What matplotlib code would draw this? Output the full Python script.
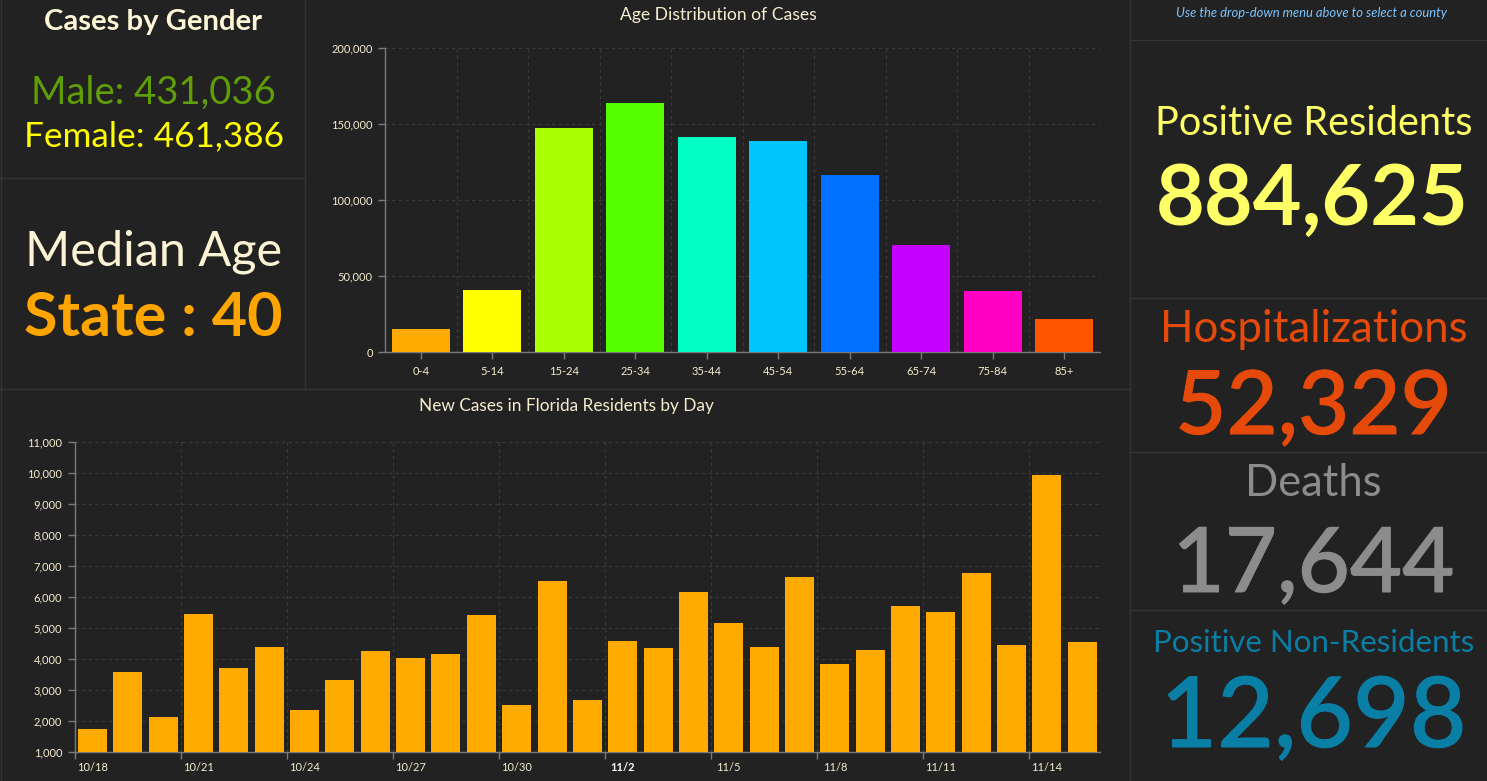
import numpy as np
import matplotlib
matplotlib.use('Agg')
import matplotlib.pyplot as plt
import matplotlib.patheffects as pe
from matplotlib.lines import Line2D
from matplotlib.ticker import FuncFormatter

plt.rcParams['font.family'] = ['Lato', 'DejaVu Sans']

W, H = 1487, 781
BG = '#222222'
CREAM = '#f5edcf'
PANEL_LINE = '#353535'
GRID = '#3a3a3a'
AXIS = '#7a7a7a'

# age chart
age_groups = ['0-4', '5-14', '15-24', '25-34', '35-44', '45-54', '55-64', '65-74', '75-84', '85+']
age_cases = [15350, 41000, 147600, 164000, 141700, 139000, 116700, 70600, 40350, 21900]
age_colors = ['#ffaa00', '#ffff00', '#aaff00', '#55ff00', '#00ffc5', '#00c5ff', '#0070ff', '#c500ff', '#ff00c5', '#ff5500']

# daily chart
days = ['10/18', '10/19', '10/20', '10/21', '10/22', '10/23', '10/24', '10/25', '10/26', '10/27',
        '10/28', '10/29', '10/30', '10/31', '11/1', '11/2', '11/3', '11/4', '11/5', '11/6',
        '11/7', '11/8', '11/9', '11/10', '11/11', '11/12', '11/13', '11/14', '11/15']
new_cases = [1750, 3590, 2140, 5450, 3715, 4390, 2365, 3330, 4260, 4035,
             4165, 5420, 2525, 6515, 2685, 4585, 4360, 6160, 5165, 4390,
             6645, 3845, 4295, 5710, 5515, 6775, 4455, 9925, 4550]

# big numbers
male_text = 'Male: 431,036'
female_text = 'Female: 461,386'
median_text = 'State : 40'
positive_residents = '884,625'
hospitalizations = '52,329'
deaths = '17,644'
non_residents = '12,698'


def to_axes(fig, left, top, right, bottom):
    """pixel box -> figure fraction axes"""
    return fig.add_axes([left / W, 1 - bottom / H, (right - left) / W, (bottom - top) / H])


def panel_line(fig, x0, y0, x1, y1):
    fig.add_artist(Line2D([x0 / W, x1 / W], [1 - y0 / H, 1 - y1 / H], color=PANEL_LINE, lw=1))


def fit_text(fig, s, x0, x1, baseline, color, weight='normal', style='normal', stroke=0):
    """put text on a baseline and scale it to span x0..x1 in pixels"""
    t = fig.text((x0 + x1) / 2 / W, 1 - baseline / H, s, color=color, ha='center', va='baseline',
                 fontweight=weight, fontstyle=style, fontsize=20)
    ext = t.get_window_extent(fig.canvas.get_renderer())
    t.set_fontsize(20 * (x1 - x0) / ext.width)
    if stroke:
        # lato medium is thinner than the original numerals
        t.set_path_effects([pe.withStroke(linewidth=stroke, foreground=color)])
    return t


def style_axes(ax):
    ax.set_facecolor(BG)
    ax.set_axisbelow(True)
    for side in ['top', 'right']:
        ax.spines[side].set_visible(False)
    for side in ['left', 'bottom']:
        ax.spines[side].set_color(AXIS)
        ax.spines[side].set_linewidth(1)
    ax.yaxis.set_major_formatter(FuncFormatter(lambda v, p: f'{int(v):,}'))
    ax.tick_params(axis='y', colors=AXIS, labelcolor=CREAM, labelsize=8, length=5, pad=4, width=1)
    ax.grid(axis='y', color=GRID, lw=0.8, ls=(0, (3, 3)))


fig = plt.figure(figsize=(W / 100, H / 100), dpi=100, facecolor=BG)

# panel borders
panel_line(fig, 305, 0, 305, 389)
panel_line(fig, 0, 178, 305, 178)
panel_line(fig, 0, 389, 1130, 389)
panel_line(fig, 1130, 0, 1130, H)
panel_line(fig, 1130, 40, W, 40)
panel_line(fig, 1130, 298, W, 298)
panel_line(fig, 1130, 452, W, 452)
panel_line(fig, 1130, 610, W, 610)
panel_line(fig, 0.5, 0, 0.5, H)

# age distribution
ax1 = to_axes(fig, 385.2, 48.3, 1100, 352.3)
style_axes(ax1)
x1 = np.arange(len(age_groups))
ax1.bar(x1, age_cases, width=0.81, color=age_colors, zorder=3)
ax1.set_xlim(-0.5, len(age_groups) - 0.5)
ax1.set_ylim(0, 200000)
ax1.set_yticks([0, 50000, 100000, 150000, 200000])
ax1.set_xticks(x1)
ax1.set_xticklabels(age_groups)
ax1.set_xticks(np.arange(len(age_groups) + 1) - 0.5, minor=True)
ax1.tick_params(axis='x', which='major', colors=AXIS, labelcolor=CREAM, labelsize=8, length=5, pad=5, width=1)
ax1.tick_params(axis='x', which='minor', length=0)
ax1.grid(axis='x', which='minor', color=GRID, lw=0.8, ls=(0, (3, 3)))

# new cases by day
ax2 = to_axes(fig, 74.8, 441.7, 1100, 752.3)
style_axes(ax2)
x2 = np.arange(len(days))
ax2.bar(x2, new_cases, width=0.82, color='#ffaa00', zorder=3)
ax2.set_xlim(-0.5, len(days) - 0.5)
ax2.set_ylim(1000, 11000)
ax2.set_yticks(np.arange(1000, 11001, 1000))
# ticks sit on the band edges, labels under the bar
ax2.set_xticks(x2[::3] - 0.5)
ax2.set_xticklabels([])
ax2.set_xticks(x2[::3], minor=True)
ax2.set_xticklabels(days[::3], minor=True)
ax2.tick_params(axis='x', which='major', color=AXIS, length=5, width=1)
ax2.tick_params(axis='x', which='minor', length=0, labelcolor=CREAM, labelsize=8, pad=7)
ax2.grid(axis='x', which='major', color=GRID, lw=0.8, ls=(0, (3, 3)))
for lab in ax2.get_xticklabels(minor=True):
    if lab.get_text() == '11/2':
        lab.set_fontweight('bold')
        lab.set_color('#ffffff')

# titles
fit_text(fig, 'Age Distribution of Cases', 620, 816, 20, CREAM)
fit_text(fig, 'New Cases in Florida Residents by Day', 418, 714, 411, CREAM)

# left column
fit_text(fig, 'Cases by Gender', 44, 263, 30, '#fff6d8', weight='bold')
fit_text(fig, male_text, 31, 276, 104, '#5f9e06')
fit_text(fig, female_text, 24, 284, 146, '#ffff00')
fit_text(fig, 'Median Age', 25, 283, 265, '#fbf3d4')
fit_text(fig, median_text, 24, 283, 336, '#ffa500', weight='bold')

# right column
fit_text(fig, 'Use the drop-down menu above to select a county', 1175, 1447, 17, '#7cc4ff', style='italic')
fit_text(fig, 'Positive Residents', 1154, 1473, 135, '#ffff66')
fit_text(fig, positive_residents, 1156, 1469, 225, '#ffff66', weight='bold')
fit_text(fig, 'Hospitalizations', 1160, 1467, 342, '#e64a0a')
fit_text(fig, hospitalizations, 1175, 1452, 434, '#e64a0a', weight='medium', stroke=0.7)
fit_text(fig, 'Deaths', 1245, 1382, 496, '#8c8c8c')
fit_text(fig, deaths, 1173, 1454, 592, '#8c8c8c', weight='medium', stroke=0.7)
fit_text(fig, 'Positive Non-Residents', 1153, 1474, 652, '#0a7fa6')
fit_text(fig, non_residents, 1161, 1466, 747, '#0a7fa6', weight='medium', stroke=0.7)

fig.savefig('out.png', dpi=100, facecolor=BG)
